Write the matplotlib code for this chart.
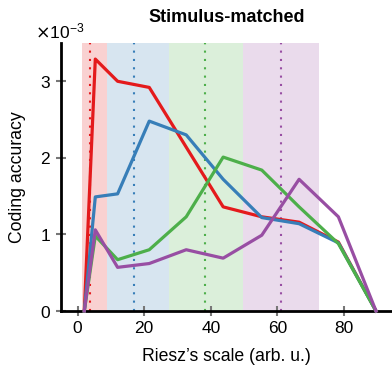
import numpy as np
import matplotlib.pyplot as plt
from matplotlib.ticker import ScalarFormatter

plt.rcParams['font.family'] = ['Liberation Sans', 'DejaVu Sans']

# Riesz scale sample positions
scale = [2.0, 5.3, 12.0, 21.5, 32.6, 43.7, 55.3, 66.5, 78.3, 89.6]

# coding accuracy for each band
acc_red = [0, 3.29e-3, 3.00e-3, 2.92e-3, 2.14e-3, 1.36e-3, 1.23e-3, 1.16e-3, 0.90e-3, 0]
acc_blue = [0, 1.49e-3, 1.53e-3, 2.48e-3, 2.30e-3, 1.72e-3, 1.22e-3, 1.14e-3, 0.89e-3, 0]
acc_green = [0, 0.98e-3, 0.67e-3, 0.80e-3, 1.23e-3, 2.01e-3, 1.84e-3, 1.36e-3, 0.88e-3, 0]
acc_purple = [0, 1.06e-3, 0.57e-3, 0.62e-3, 0.80e-3, 0.69e-3, 0.99e-3, 1.72e-3, 1.23e-3, 0]

# shaded bands and their centres
band_edges = [1.3, 8.8, 27.3, 49.7, 72.5]
band_centres = [3.7, 17.0, 38.3, 61.0]
colors = ['#e41a1c', '#377eb8', '#4daf4a', '#984ea3']

fig = plt.figure(figsize=(3.92, 3.66), dpi=100)
ax = fig.add_axes([61/392, 55/366, 331/392, 268/366])

for i, c in enumerate(colors):
    ax.axvspan(band_edges[i], band_edges[i+1], color=c, alpha=0.2, lw=0, zorder=0)
    ax.axvline(band_centres[i], color=c, ls=(0, (1, 3)), lw=1.5, zorder=1)

for vals, c in zip([acc_red, acc_blue, acc_green, acc_purple], colors):
    ax.plot(scale, vals, color=c, lw=2.3, zorder=3, clip_on=False)

ax.set_xlim(-5, 94.4)
ax.set_ylim(0, 3.5e-3)
ax.set_xticks([0, 20, 40, 60, 80])
ax.set_yticks([0, 1e-3, 2e-3, 3e-3])

fmt = ScalarFormatter(useMathText=True)
fmt.set_powerlimits((-3, -3))
ax.yaxis.set_major_formatter(fmt)
ax.yaxis.get_offset_text().set_fontsize(12.5)
ax.yaxis.get_offset_text().set_x(-0.08)

for s in ['top', 'right']:
    ax.spines[s].set_visible(False)
for s in ['left', 'bottom']:
    ax.spines[s].set_linewidth(2.0)
ax.tick_params(direction='inout', length=7, width=1.5, color='#777777', labelsize=12.5, pad=4)

ax.set_xlabel("Riesz\u2019s scale (arb. u.)", fontsize=12.7, labelpad=8)
ax.set_ylabel('Coding accuracy', fontsize=12.7, labelpad=10)
ax.set_title('Stimulus-matched', fontsize=13, fontweight='bold', pad=15)

plt.savefig('out.png', dpi=100)
